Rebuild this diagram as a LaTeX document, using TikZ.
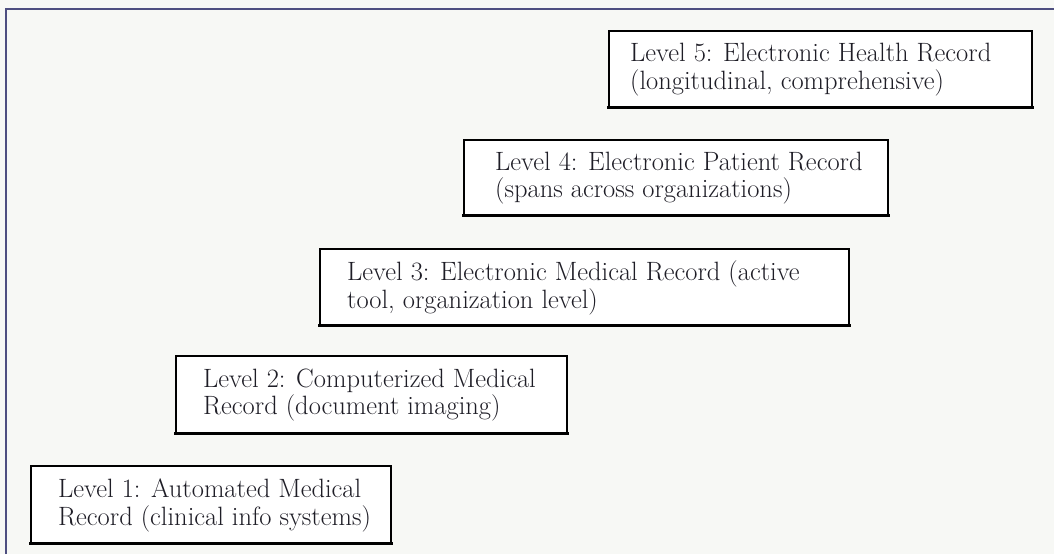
\documentclass[tikz,border=0pt]{standalone}
\usetikzlibrary{positioning}
\definecolor{paper}{HTML}{F7F8F5}
\definecolor{framec}{HTML}{4E4F80}
\definecolor{ink}{HTML}{1E1D26}
\begin{document}
\begin{tikzpicture}[x=1pt,y=-1pt,
  lvlbox/.style={draw=black, line width=1.5pt, fill=white, inner sep=0pt, anchor=north west},
  lvltext/.style={align=left, inner sep=0pt, anchor=west, text=ink, font=\fontsize{26.5}{27.5}\selectfont},
  thickbottom/.style={line width=3pt, line cap=rect}]
\fill[paper] (0,0) rectangle (1054,554);
\useasboundingbox (0,0) rectangle (1054,554);
\draw[framec, line width=2pt] (6,554) -- (6,9) -- (1054,9);

\node[lvlbox, minimum width=423pt, minimum height=76pt] (b5) at (608,30) {};
\node[lvlbox, minimum width=424pt, minimum height=75pt] (b4) at (463,139) {};
\node[lvlbox, minimum width=529pt, minimum height=76pt] (b3) at (319,248) {};
\node[lvlbox, minimum width=391pt, minimum height=77pt] (b2) at (175,355) {};
\node[lvlbox, minimum width=360pt, minimum height=77pt] (b1) at (30,465) {};

\foreach \b in {b1,b2,b3,b4,b5}
  \draw[thickbottom] (\b.south west) -- (\b.south east);

\node[lvltext] (t5) at ([xshift=22pt,yshift=-1pt]b5.west) {Level 5: Electronic Health Record\\(longitudinal, comprehensive)};
\node[lvltext] (t4) at ([xshift=32pt,yshift=-1pt]b4.west) {Level 4: Electronic Patient Record\\(spans across organizations)};
\node[lvltext] (t3) at ([xshift=28pt,yshift=-1pt]b3.west) {Level 3: Electronic Medical Record (active\\tool, organization level)};
\node[lvltext] (t2) at ([xshift=28pt,yshift=-1pt]b2.west) {Level 2: Computerized Medical\\Record (document imaging)};
\node[lvltext] (t1) at ([xshift=28pt,yshift=-1pt]b1.west) {Level 1: Automated Medical\\Record (clinical info systems)};
\end{tikzpicture}
\end{document}
